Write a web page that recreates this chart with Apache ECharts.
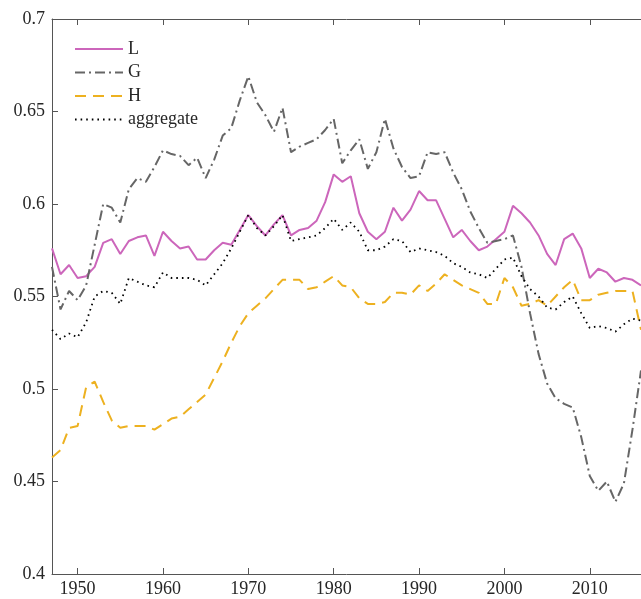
<!DOCTYPE html>
<html>
<head>
<meta charset="utf-8">
<script src="https://cdn.jsdelivr.net/npm/echarts@6/dist/echarts.min.js"></script>
<style>
  html, body { margin: 0; padding: 0; background: #fff; }
  #chart { width: 641px; height: 599px; }
</style>
</head>
<body>
<div id="chart"></div>
<script>
// yearly values, 1947-2016
const firstYear = 1947;
const lastYear = 2016;
const tickYears = [1950, 1960, 1970, 1980, 1990, 2000, 2010];

const L = [
  0.576, 0.562, 0.567, 0.560, 0.561, 0.566, 0.579, 0.581, 0.573, 0.580,
  0.582, 0.583, 0.572, 0.585, 0.580, 0.576, 0.577, 0.570, 0.570, 0.575,
  0.579, 0.578, 0.586, 0.594, 0.588, 0.583, 0.589, 0.594, 0.583, 0.586,
  0.587, 0.591, 0.601, 0.616, 0.612, 0.615, 0.595, 0.585, 0.581, 0.585,
  0.598, 0.591, 0.597, 0.607, 0.602, 0.602, 0.592, 0.582, 0.586, 0.580,
  0.575, 0.577, 0.581, 0.585, 0.599, 0.595, 0.590, 0.583, 0.573, 0.567,
  0.581, 0.584, 0.576, 0.560, 0.565, 0.563, 0.558, 0.560, 0.559, 0.556
];
const G = [
  0.566, 0.543, 0.553, 0.548, 0.556, 0.578, 0.600, 0.598, 0.590, 0.608,
  0.614, 0.612, 0.620, 0.629, 0.627, 0.626, 0.621, 0.625, 0.614, 0.624,
  0.637, 0.641, 0.656, 0.669, 0.655, 0.648, 0.639, 0.652, 0.628, 0.631,
  0.633, 0.635, 0.640, 0.646, 0.622, 0.629, 0.635, 0.619, 0.628, 0.646,
  0.630, 0.620, 0.614, 0.615, 0.628, 0.627, 0.628, 0.617, 0.608, 0.596,
  0.587, 0.579, 0.580, 0.581, 0.583, 0.566, 0.541, 0.519, 0.503, 0.495,
  0.492, 0.490, 0.474, 0.453, 0.445, 0.450, 0.439, 0.449, 0.478, 0.510
];
const H = [
  0.463, 0.467, 0.479, 0.480, 0.501, 0.504, 0.493, 0.483, 0.479, 0.480,
  0.480, 0.480, 0.478, 0.481, 0.484, 0.485, 0.489, 0.493, 0.497, 0.506,
  0.515, 0.525, 0.534, 0.541, 0.545, 0.549, 0.554, 0.559, 0.559, 0.559,
  0.554, 0.555, 0.558, 0.561, 0.556, 0.555, 0.549, 0.546, 0.546, 0.547,
  0.552, 0.552, 0.551, 0.556, 0.553, 0.557, 0.562, 0.559, 0.556, 0.554,
  0.552, 0.546, 0.546, 0.560, 0.555, 0.545, 0.546, 0.548, 0.545, 0.550,
  0.555, 0.559, 0.548, 0.548, 0.551, 0.552, 0.553, 0.553, 0.553, 0.532
];
const aggregate = [
  0.532, 0.527, 0.530, 0.528, 0.536, 0.550, 0.553, 0.552, 0.546, 0.560,
  0.558, 0.556, 0.555, 0.563, 0.560, 0.560, 0.560, 0.559, 0.556, 0.562,
  0.568, 0.576, 0.585, 0.594, 0.587, 0.583, 0.588, 0.594, 0.580, 0.581,
  0.582, 0.583, 0.587, 0.592, 0.586, 0.590, 0.585, 0.575, 0.575, 0.577,
  0.581, 0.580, 0.574, 0.576, 0.575, 0.574, 0.572, 0.568, 0.566, 0.563,
  0.562, 0.560, 0.565, 0.570, 0.571, 0.561, 0.554, 0.550, 0.544, 0.543,
  0.547, 0.550, 0.541, 0.533, 0.534, 0.533, 0.531, 0.535, 0.538, 0.537
];

const years = L.map((_, i) => firstYear + i);
const pairs = (vals) => vals.map((v, i) => [years[i], v]);

const font = 'Liberation Serif';
const axisColor = '#555';
const textColor = '#262626';

const chart = echarts.init(document.getElementById('chart'));
chart.setOption({
  animation: false,
  backgroundColor: '#fff',
  grid: { left: 52, right: 0, top: 19, bottom: 25 },
  legend: {
    orient: 'vertical',
    left: 74,
    top: 40,
    padding: 0,
    itemWidth: 48,
    itemHeight: 18,
    itemGap: 5.5,
    itemStyle: { opacity: 0 },
    textStyle: { fontFamily: font, fontSize: 18, color: textColor },
    data: ['L', 'G', 'H', 'aggregate']
  },
  xAxis: [
    {
      type: 'value',
      min: firstYear,
      max: lastYear,
      position: 'bottom',
      splitLine: { show: false },
      axisLine: { lineStyle: { color: axisColor, width: 1 } },
      axisTick: { inside: true, length: 6, customValues: tickYears, lineStyle: { color: axisColor } },
      axisLabel: {
        customValues: tickYears, formatter: (v) => String(v),
        fontFamily: font, fontSize: 18, color: textColor, margin: 6
      }
    },
    {
      type: 'value',
      min: firstYear,
      max: lastYear,
      position: 'top',
      splitLine: { show: false },
      axisLine: { lineStyle: { color: axisColor, width: 1 } },
      axisTick: { inside: true, length: 6, customValues: tickYears, lineStyle: { color: axisColor } },
      axisLabel: { show: false }
    }
  ],
  yAxis: {
    type: 'value',
    min: 0.4,
    max: 0.7,
    interval: 0.05,
    splitLine: { show: false },
    axisLine: { show: true, lineStyle: { color: axisColor, width: 1 } },
    axisTick: { show: true, inside: true, length: 6, lineStyle: { color: axisColor } },
    axisLabel: { fontFamily: font, fontSize: 18, color: textColor, margin: 7 }
  },
  series: [
    {
      name: 'L', type: 'line', data: pairs(L), symbol: 'none',
      lineStyle: { color: '#CC66BB', width: 2 },
      itemStyle: { color: '#CC66BB' }
    },
    {
      name: 'G', type: 'line', data: pairs(G), symbol: 'none',
      lineStyle: { color: '#666666', width: 2, type: [10, 4, 2, 4] },
      itemStyle: { color: '#666666' }
    },
    {
      name: 'H', type: 'line', data: pairs(H), symbol: 'none',
      lineStyle: { color: '#EDB120', width: 2, type: [11, 7] },
      itemStyle: { color: '#EDB120' }
    },
    {
      name: 'aggregate', type: 'line', data: pairs(aggregate), symbol: 'none',
      lineStyle: { color: '#000000', width: 1.8, type: [1.6, 4] },
      itemStyle: { color: '#000000' }
    }
  ]
});
</script>
</body>
</html>
